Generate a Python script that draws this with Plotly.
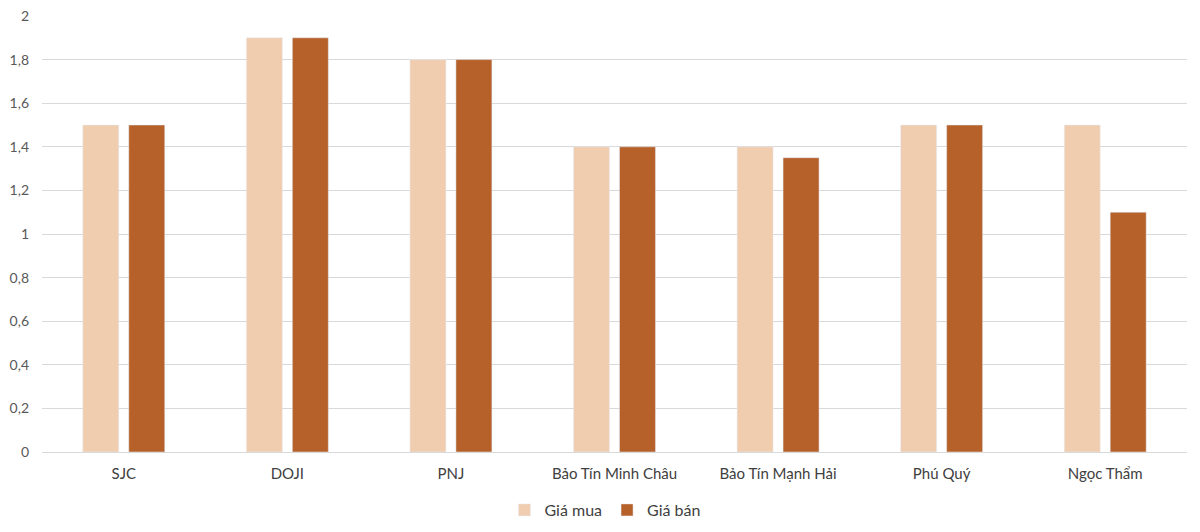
import plotly.graph_objects as go

# Dữ liệu
brands = ["SJC", "DOJI", "PNJ", "Bảo Tín Minh Châu", "Bảo Tín Mạnh Hải", "Phú Quý", "Ngọc Thẩm"]
gia_mua = [1.5, 1.9, 1.8, 1.4, 1.4, 1.5, 1.5]
gia_ban = [1.5, 1.9, 1.8, 1.4, 1.35, 1.5, 1.1]
y_ticks = [0, 0.2, 0.4, 0.6, 0.8, 1, 1.2, 1.4, 1.6, 1.8, 2]

fig = go.Figure()
fig.add_trace(go.Bar(x=brands, y=gia_mua, name="Giá mua", marker_color="#F1CDB0"))
fig.add_trace(go.Bar(x=brands, y=gia_ban, name="Giá bán", marker_color="#B7612A"))

fig.update_layout(
    width=1200, height=532,
    barmode="group", bargap=0.438, bargroupgap=0.217,
    plot_bgcolor="white", paper_bgcolor="white",
    margin=dict(l=34, r=21, t=8, b=88),
    font=dict(family="Lato, Noto Sans, sans-serif", size=15, color="#404040"),
    legend=dict(orientation="h", x=0.4975, xanchor="center", xref="container",
                y=0.0564, yanchor="middle", yref="container",
                font=dict(size=16, color="#404040"), traceorder="normal"),
)
fig.update_yaxes(range=[0, 2], tickvals=y_ticks,
                 ticktext=[str(v).replace(".", ",") for v in y_ticks],
                 showgrid=True, gridcolor="#D9D9D9", gridwidth=1, automargin=False,
                 zeroline=False, tickfont=dict(color="#595959", size=14), ticks="", ticklen=0,
                 ticklabelstandoff=12, ticklabeloverflow="allow")
fig.update_xaxes(showline=True, linecolor="#D9D9D9", linewidth=1, automargin=False,
                 tickfont=dict(color="#404040", size=15), ticklabelstandoff=8)

fig.write_html("out.html")
